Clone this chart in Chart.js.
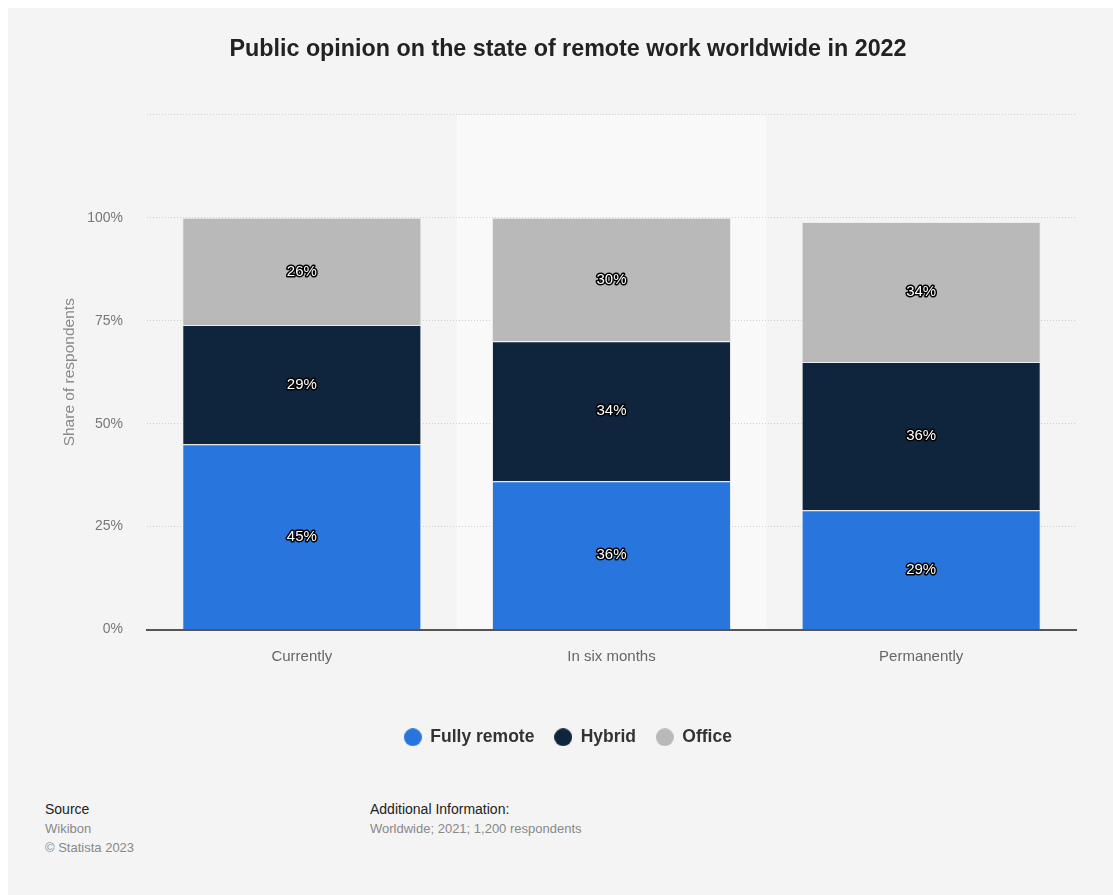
<!DOCTYPE html>
<html>
<head>
<meta charset="utf-8">
<script src="https://cdn.jsdelivr.net/npm/chart.js@4/dist/chart.umd.min.js"></script>
<style>
  html, body { margin: 0; padding: 0; background: #fff; }
  body { width: 1113px; height: 895px; position: relative; overflow: hidden; font-family: "Liberation Sans", Arial, sans-serif; }
  #panel { position: absolute; left: 8px; top: 8px; right: 0; bottom: 0; background: #f4f4f4; }
  #wrap { position: absolute; left: 0; top: 0; width: 1113px; height: 766px; }
  .foot { position: absolute; top: 800px; line-height: 19px; }
  .foot .head { color: #222; font-size: 14px; }
  .foot .txt { color: #888; font-size: 13px; }
</style>
</head>
<body>
<div id="panel"></div>
<div id="wrap"><canvas id="bar-chart"></canvas></div>
<div class="foot" style="left:45px">
  <div class="head">Source</div>
  <div class="txt">Wikibon</div>
  <div class="txt">© Statista 2023</div>
</div>
<div class="foot" style="left:370px">
  <div class="head">Additional Information:</div>
  <div class="txt">Worldwide; 2021; 1,200 respondents</div>
</div>
<script>
var categories = ["Currently", "In six months", "Permanently"];
var fullyRemote = [45, 36, 29];
var hybrid = [29, 34, 36];
var office = [26, 30, 34];
var yTicks = [0, 25, 50, 75, 100];
var highlighted = 1; // column shown with the light band behind it

var FONT = '"Liberation Sans", Arial, sans-serif';

// round legend marker as a small canvas
function dot(color) {
  var c = document.createElement('canvas');
  c.width = 18; c.height = 18;
  var g = c.getContext('2d');
  g.fillStyle = color;
  g.beginPath();
  g.arc(9, 9, 9, 0, Math.PI * 2);
  g.fill();
  return c;
}

// light band behind one category
var bandPlugin = {
  id: 'band',
  beforeDraw: function(chart) {
    var x = chart.scales.x, a = chart.chartArea;
    var w = x.width / categories.length;
    var cx = x.getPixelForValue(highlighted);
    var ctx = chart.ctx;
    ctx.save();
    ctx.fillStyle = '#f9f9f9';
    ctx.fillRect(cx - w / 2, a.top, w, a.bottom - a.top);
    ctx.restore();
  }
};

// value labels in the middle of each segment
var valueLabels = {
  id: 'valueLabels',
  afterDatasetsDraw: function(chart) {
    var ctx = chart.ctx;
    ctx.save();
    ctx.font = '15px ' + FONT;
    ctx.textAlign = 'center';
    ctx.textBaseline = 'middle';
    ctx.lineJoin = 'round';
    chart.data.datasets.forEach(function(ds, i) {
      chart.getDatasetMeta(i).data.forEach(function(bar, j) {
        var y = (bar.y + bar.base) / 2;
        var t = ds.data[j] + '%';
        ctx.lineWidth = 3;
        ctx.strokeStyle = '#000';
        ctx.strokeText(t, bar.x, y);
        ctx.fillStyle = '#fff';
        ctx.fillText(t, bar.x, y);
      });
    });
    ctx.restore();
  }
};

new Chart(document.getElementById("bar-chart"), {
  type: 'bar',
  data: {
    labels: categories,
    datasets: [{
        data: fullyRemote,
        label: "Fully remote",
        backgroundColor: "#2876dd"
      }, {
        data: hybrid,
        label: "Hybrid",
        backgroundColor: "#0f253d"
      }, {
        data: office,
        label: "Office",
        backgroundColor: "#b9b9b9"
      }
    ]
  },
  plugins: [bandPlugin, valueLabels],
  options: {
    responsive: true,
    maintainAspectRatio: false,
    animation: false,
    layout: { padding: { left: 60, right: 37, top: 20, bottom: 10 } },
    datasets: {
      bar: {
        categoryPercentage: 1,
        barPercentage: 0.772,
        borderWidth: 1,
        borderColor: '#ececec'
      }
    },
    scales: {
      x: {
        stacked: true,
        grid: { display: false },
        border: { color: '#555', width: 2 },
        ticks: { color: '#666', padding: 10, font: { size: 15, family: FONT } },
        afterFit: function(scale) { scale.height += 33; }
      },
      y: {
        stacked: true,
        min: 0,
        max: 125,
        afterBuildTicks: function(scale) {
          scale.ticks = yTicks.concat([125]).map(function(v) { return { value: v }; });
        },
        afterFit: function(scale) { scale.width = 87; },
        ticks: {
          color: '#777',
          padding: 24,
          font: { size: 14, family: FONT },
          callback: function(v) { return yTicks.indexOf(v) >= 0 ? v + '%' : ''; }
        },
        grid: { color: '#cfcfcf', drawTicks: false },
        border: { display: false, dash: [1, 2] },
        title: {
          display: true,
          text: 'Share of respondents',
          color: '#888',
          padding: { top: 0, bottom: 0 },
          font: { size: 15.5, family: FONT }
        }
      }
    },
    plugins: {
      title: {
        display: true,
        text: 'Public opinion on the state of remote work worldwide in 2022',
        color: '#222',
        padding: { top: 16, bottom: 51 },
        font: { size: 23.3, weight: 'bold', family: FONT }
      },
      legend: {
        position: 'bottom',
        labels: {
          usePointStyle: true,
          boxWidth: 18,
          boxHeight: 18,
          padding: 20,
          color: '#333',
          font: { size: 17.5, weight: 'bold', family: FONT },
          generateLabels: function(chart) {
            var items = Chart.defaults.plugins.legend.labels.generateLabels(chart);
            items.forEach(function(it) { it.pointStyle = dot(it.fillStyle); });
            return items;
          }
        }
      },
      tooltip: { enabled: false }
    }
  }
});
</script>
</body>
</html>
